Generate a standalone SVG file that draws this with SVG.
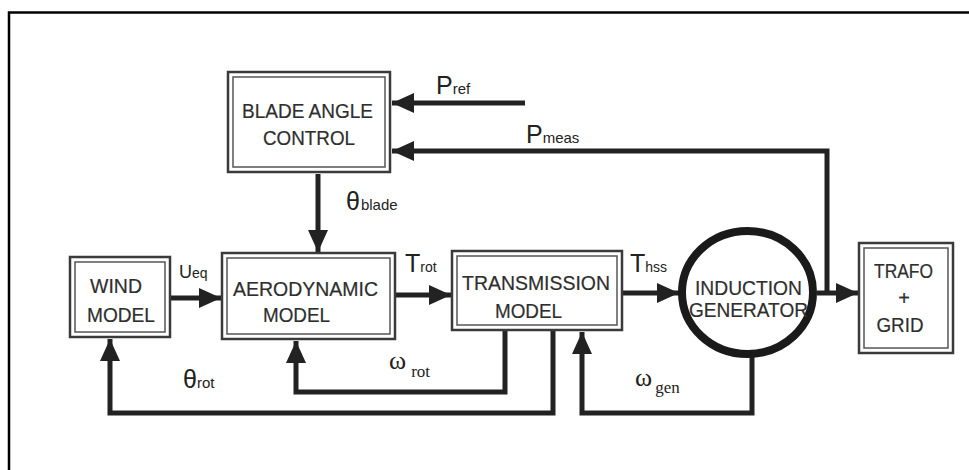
<svg xmlns="http://www.w3.org/2000/svg" width="969" height="470" viewBox="0 0 969 470">
<defs>
<marker id="ah" viewBox="0 0 22 20" refX="22" refY="10" markerWidth="22" markerHeight="20" markerUnits="userSpaceOnUse" orient="auto">
<path d="M0,0 L22,10 L0,20 Z" fill="#222"/>
</marker>
<style>
.outer{fill:#fff;stroke:#3a3a3a;stroke-width:2.5}
.inner{fill:none;stroke:#555;stroke-width:1.5}
.bt{font-family:"Liberation Sans",Arial,sans-serif;font-size:20px;fill:#2e2e2e;stroke:#2e2e2e;stroke-width:0.2;text-anchor:middle}
.wire{fill:none;stroke:#222;stroke-width:5;marker-end:url(#ah)}
.lb{font-family:"Liberation Sans",Arial,sans-serif;fill:#222}
.lg{font-family:"Liberation Serif","Times New Roman",serif;fill:#222}
</style>
</defs>
<rect width="969" height="470" fill="#fff"/>
<path d="M9,470 V12.5 H969" fill="none" stroke="#000" stroke-width="2.5"/>

<g id="connectors">
<path class="wire" d="M525,103 H392"/>
<path class="wire" d="M827,293 V151 H392"/>
<path class="wire" d="M318,174 V252"/>
<path class="wire" d="M171,298 H221"/>
<path class="wire" d="M396,295 H451"/>
<path class="wire" d="M623,293 H679"/>
<path class="wire" d="M817,293 H858"/>
<path class="wire" d="M505,331 V392 H296 V341"/>
<path class="wire" d="M553,331 V413 H110 V339"/>
<path class="wire" d="M752,357 V413 H582 V332"/>
</g>

<g id="blade">
<rect class="outer" x="228" y="72" width="162" height="100"/>
<rect class="inner" x="233" y="77" width="152" height="90"/>
<text class="bt" x="307.5" y="118" textLength="131" lengthAdjust="spacingAndGlyphs">BLADE ANGLE</text>
<text class="bt" x="309" y="145" textLength="92" lengthAdjust="spacingAndGlyphs">CONTROL</text>
</g>

<g id="wind">
<rect class="outer" x="70" y="257" width="100" height="80"/>
<rect class="inner" x="75" y="262" width="90" height="70"/>
<text class="bt" x="116" y="293" textLength="52" lengthAdjust="spacingAndGlyphs">WIND</text>
<text class="bt" x="121" y="322" textLength="68" lengthAdjust="spacingAndGlyphs">MODEL</text>
</g>

<g id="aero">
<rect class="outer" x="222" y="253" width="173" height="86"/>
<rect class="inner" x="227" y="258" width="163" height="76"/>
<text class="bt" x="305.5" y="296" textLength="145" lengthAdjust="spacingAndGlyphs">AERODYNAMIC</text>
<text class="bt" x="296.5" y="322" textLength="67" lengthAdjust="spacingAndGlyphs">MODEL</text>
</g>

<g id="transmission">
<rect class="outer" x="452" y="251" width="170" height="79"/>
<rect class="inner" x="457" y="256" width="160" height="69"/>
<text class="bt" x="536" y="290" textLength="148" lengthAdjust="spacingAndGlyphs">TRANSMISSION</text>
<text class="bt" x="528.5" y="318" textLength="67" lengthAdjust="spacingAndGlyphs">MODEL</text>
</g>

<g id="generator">
<ellipse cx="747.5" cy="292.5" rx="65.5" ry="61.5" fill="#fff" stroke="#1a1a1a" stroke-width="8"/>
<text class="bt" x="748.5" y="295" textLength="107" lengthAdjust="spacingAndGlyphs">INDUCTION</text>
<text class="bt" x="748.5" y="317" textLength="119" lengthAdjust="spacingAndGlyphs">GENERATOR</text>
</g>

<g id="trafo">
<rect class="outer" x="859" y="243" width="94" height="110"/>
<rect class="inner" x="864" y="248" width="84" height="100"/>
<text class="bt" x="903.5" y="278" textLength="59" lengthAdjust="spacingAndGlyphs">TRAFO</text>
<text class="bt" x="904" y="305">+</text>
<text class="bt" x="900" y="332" textLength="47" lengthAdjust="spacingAndGlyphs">GRID</text>
</g>

<g id="labels">
<text class="lb" x="436" y="94" font-size="25">P<tspan font-size="15">ref</tspan></text>
<text class="lb" x="526" y="143" font-size="25">P<tspan font-size="15">meas</tspan></text>
<text class="lb" x="346" y="210" font-size="25">θ<tspan font-size="15" dx="1">blade</tspan></text>
<text class="lb" x="179" y="278" font-size="18">U<tspan font-size="14">eq</tspan></text>
<text class="lb" x="405" y="272" font-size="25">T<tspan font-size="14">rot</tspan></text>
<text class="lb" x="630" y="272" font-size="25">T<tspan font-size="14">hss</tspan></text>
<text class="lb" x="183" y="388" font-size="25">θ<tspan font-size="15">rot</tspan></text>
<text class="lg" x="389" y="369" font-size="26">ω<tspan font-size="17" dx="5" dy="8">rot</tspan></text>
<text class="lg" x="635" y="386" font-size="26">ω<tspan font-size="17" dx="3" dy="7">gen</tspan></text>
</g>
</svg>
